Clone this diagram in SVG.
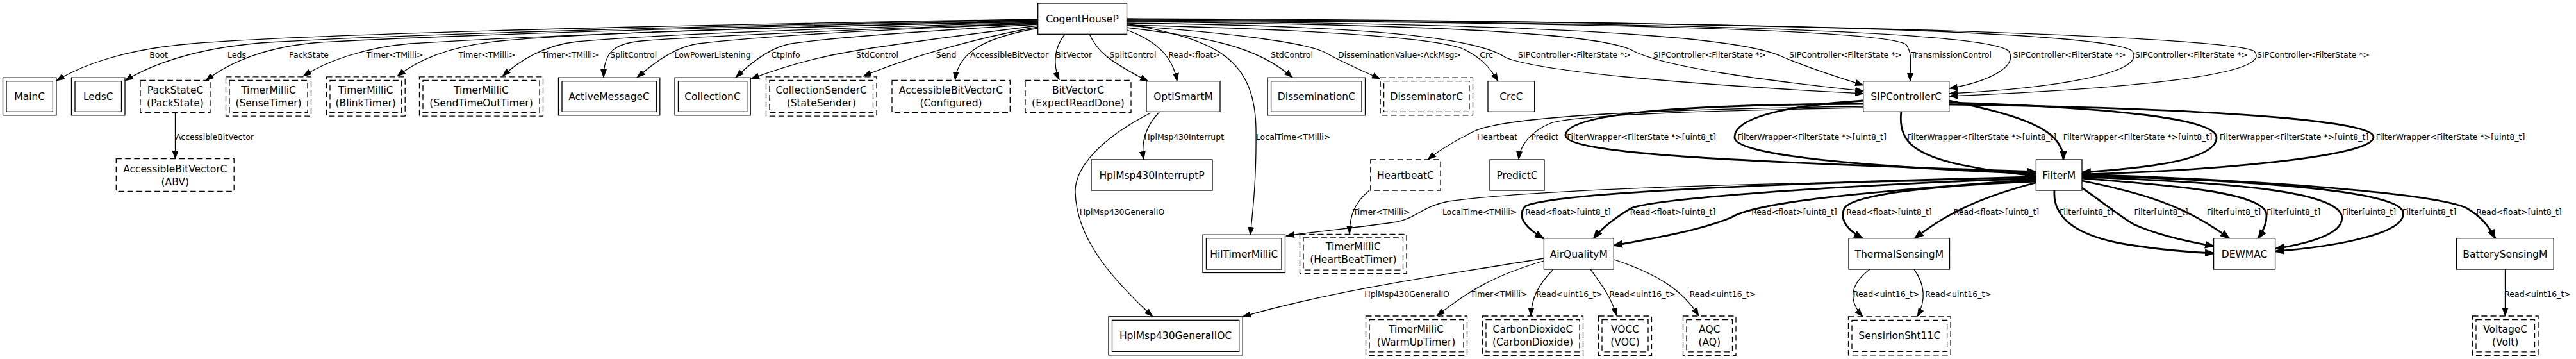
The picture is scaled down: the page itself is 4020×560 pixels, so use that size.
<svg xmlns="http://www.w3.org/2000/svg" width="4020" height="560" viewBox="0 0 4020 560">
<style>
.bg{fill:#fff}
.n rect{fill:#fff;stroke:#000;stroke-width:1.3}
.n.d rect,.n rect.d{stroke-dasharray:9 5}
.n text{font-family:"DejaVu Sans",sans-serif;font-size:15.5px;fill:#000;text-anchor:middle}
.e path{fill:none;stroke:#000;stroke-width:1.3;marker-end:url(#a)}
.e path.b{stroke-width:2.8;marker-end:url(#ab)}
.e path.nm{marker-end:none}
.l text{font-family:"DejaVu Sans",sans-serif;font-size:12.5px;fill:#000;text-anchor:middle}
</style>
<defs>
<marker id="a" markerWidth="14" markerHeight="10" refX="13" refY="5" orient="auto" markerUnits="userSpaceOnUse"><path d="M0,0 L14,5 L0,10 z" fill="#000"/></marker>
<marker id="ab" markerWidth="16" markerHeight="12" refX="14" refY="6" orient="auto" markerUnits="userSpaceOnUse"><path d="M0,0 L16,6 L0,12 z" fill="#000"/></marker>
</defs>
<rect class="bg" x="0" y="0" width="4020" height="560"/>

<g id="connectors" class="e">
<path d="M1620,30 C1100,38 500,52 300,68 C200,76 130,100 88,126"/>
<path d="M1620,31 C1100,40 600,55 420,66 C330,72 250,92 195,126"/>
<path d="M1620,32 C1100,42 700,55 500,66 C420,72 360,95 321,126"/>
<path d="M1620,33 C1100,45 800,58 640,68 C570,74 510,95 473,119"/>
<path d="M1620,34 C1200,42 900,52 780,64 C700,72 650,95 620,119"/>
<path d="M1620,35 C1300,44 1000,55 900,65 C850,70 810,95 784,119"/>
<path d="M1620,36 C1400,44 1100,55 1000,64 C960,68 942,80 942,121"/>
<path d="M1620,37 C1400,45 1200,55 1090,68 C1060,72 1030,90 994,121"/>
<path d="M1620,38 C1450,48 1300,58 1235,68 C1210,72 1180,90 1148,121"/>
<path d="M1620,40 C1500,55 1400,68 1330,80 C1270,90 1220,105 1172,123"/>
<path d="M1620,42 C1530,58 1420,88 1347,119"/>
<path d="M1620,44 C1540,58 1495,80 1490.5,125"/>
<path d="M1662,53 C1645,75 1643,100 1653,125"/>
<path d="M1700,53 C1712,80 1730,95 1792,127"/>
<path d="M1759,47 C1800,62 1830,85 1837,127"/>
<path d="M1758,37 C1880,60 1958,80 1960,200 C1961,280 1955,330 1951,367"/>
<path d="M1758,43 C1880,58 1960,70 2017,121"/>
<path d="M1758,40 C1900,50 2040,65 2070,83 C2095,97 2120,108 2154,123"/>
<path d="M1758,39 C2000,45 2220,55 2280,75 C2310,88 2325,105 2338,127"/>
<path d="M1758,36 C2100,40 2300,55 2350,90 C2400,110 2600,130 2908,146"/>
<path d="M1758,34 C2200,38 2500,50 2550,80 C2600,105 2750,125 2908,142"/>
<path d="M1758,33 C2300,36 2700,50 2780,88 C2820,105 2860,118 2908,133"/>
<path d="M1758,32 C2400,34 2950,45 2975,70 C2985,85 2981,100 2981,127"/>
<path d="M1758,31 C2500,34 3100,45 3135,80 C3150,105 3100,128 3042,138"/>
<path d="M1758,30 C2600,33 3290,45 3328,80 C3350,115 3200,138 3042,146"/>
<path d="M1758,29 C2700,32 3480,55 3518,80 C3545,110 3400,135 3042,150"/>
<path d="M273.5,176 L273.5,248"/>
<path class="b" d="M2908,162 C2700,163 2450,170 2443,210 C2438,240 2700,252 3177,268"/>
<path class="b" d="M2908,157 C2780,165 2705,185 2707,215 C2710,245 2950,262 3177,271"/>
<path class="b" d="M2967,174 C2962,215 2980,240 3060,257 C3110,267 3150,272 3177,274"/>
<path class="b" d="M3042,157 C3150,180 3220,200 3220,249"/>
<path class="b" d="M3042,160 C3300,168 3460,185 3459,215 C3458,250 3350,262 3249,269"/>
<path class="b" d="M3042,163 C3400,168 3700,185 3704,213 C3708,245 3450,266 3249,272"/>
<path d="M2908,166 C2600,170 2350,180 2300,205 C2270,220 2245,235 2228,249"/>
<path d="M2908,168 C2700,172 2460,178 2420,192 C2390,205 2372,225 2370,249"/>
<path d="M3177,282 C2800,282 2400,295 2260,314 C2220,322 2210,340 2180,346 C2120,355 2060,360 2007,368"/>
<path class="b" d="M3177,276 C2800,285 2420,300 2380,322 C2365,340 2385,358 2409,372"/>
<path class="b" d="M3177,278 C2850,290 2580,310 2545,325 C2520,340 2500,355 2487,372"/>
<path class="b" d="M3177,280 C2900,300 2740,315 2700,340 C2650,360 2580,372 2518,383"/>
<path class="b" d="M3177,283 C3000,290 2890,305 2878,325 C2870,345 2885,360 2907,372"/>
<path class="b" d="M3177,285 C3100,305 3040,330 2988,372"/>
<path class="b" d="M3206,297 C3203,340 3240,370 3330,383 C3390,392 3430,394 3455,395"/>
<path class="b" d="M3249,293 C3285,318 3305,335 3330,350 C3370,368 3420,378 3455,384"/>
<path class="b" d="M3249,282 C3340,300 3410,320 3479,372"/>
<path class="b" d="M3249,278 C3400,290 3520,300 3536,330 C3540,345 3532,360 3524,372"/>
<path class="b" d="M3249,276 C3500,285 3640,300 3654,335 C3662,365 3600,380 3551,388"/>
<path class="b" d="M3249,274 C3550,282 3740,300 3750,330 C3758,365 3640,385 3551,392"/>
<path class="b" d="M3249,272 C3500,280 3800,300 3850,325 C3875,340 3885,355 3894,372"/>
<path d="M2137,297 C2115,315 2106,335 2106,365"/>
<path d="M1809,175 C1790,195 1780,220 1785,249"/>
<path d="M1796,176 C1720,215 1677,260 1678,300 C1680,370 1730,430 1799,494"/>
<path d="M2409,403 C2280,425 2100,448 1939,494"/>
<path d="M2409,407 C2330,430 2290,455 2242,493"/>
<path d="M2424,420 C2400,445 2390,465 2389,493"/>
<path d="M2482,420 C2500,445 2515,465 2523,493"/>
<path d="M2519,405 C2580,425 2625,450 2651,493"/>
<path d="M2918,420 C2885,445 2885,470 2907,494"/>
<path d="M2987,420 C3005,445 3005,470 2992,494"/>
<path d="M3909.5,420 L3909.5,493"/>
</g>

<g id="edge-labels" class="l">
<text x="247.6" y="90.2">Boot</text>
<text x="369.5" y="90.2">Leds</text>
<text x="482" y="90.2">PackState</text>
<text x="616" y="90.2">Timer&lt;TMilli&gt;</text>
<text x="760" y="90.2">Timer&lt;TMilli&gt;</text>
<text x="890" y="90.2">Timer&lt;TMilli&gt;</text>
<text x="988.7" y="90.2">SplitControl</text>
<text x="1112" y="90.2">LowPowerListening</text>
<text x="1226" y="90.2">CtpInfo</text>
<text x="1369" y="90.2">StdControl</text>
<text x="1476.6" y="90.2">Send</text>
<text x="1575" y="90.2">AccessibleBitVector</text>
<text x="1675.7" y="90.2">BitVector</text>
<text x="1768" y="90.2">SplitControl</text>
<text x="1863.5" y="90.2">Read&lt;float&gt;</text>
<text x="2016" y="90.2">StdControl</text>
<text x="2184" y="90.2">DisseminationValue&lt;AckMsg&gt;</text>
<text x="2319.6" y="90.2">Crc</text>
<text x="2457" y="90.2">SIPController&lt;FilterState *&gt;</text>
<text x="2668" y="90.2">SIPController&lt;FilterState *&gt;</text>
<text x="2880" y="90.2">SIPController&lt;FilterState *&gt;</text>
<text x="3045" y="90.2">TransmissionControl</text>
<text x="3229.5" y="90.2">SIPController&lt;FilterState *&gt;</text>
<text x="3420" y="90.2">SIPController&lt;FilterState *&gt;</text>
<text x="3610" y="90.2">SIPController&lt;FilterState *&gt;</text>
<text x="335" y="217.8">AccessibleBitVector</text>
<text x="1847.6" y="217.8">HplMsp430Interrupt</text>
<text x="2018" y="217.8">LocalTime&lt;TMilli&gt;</text>
<text x="2336.6" y="217.8">Heartbeat</text>
<text x="2410.7" y="217.8">Predict</text>
<text x="2561.6" y="217.8">FilterWrapper&lt;FilterState *&gt;[uint8_t]</text>
<text x="2827.6" y="217.8">FilterWrapper&lt;FilterState *&gt;[uint8_t]</text>
<text x="3092.5" y="217.8">FilterWrapper&lt;FilterState *&gt;[uint8_t]</text>
<text x="3336" y="217.8">FilterWrapper&lt;FilterState *&gt;[uint8_t]</text>
<text x="3580" y="217.8">FilterWrapper&lt;FilterState *&gt;[uint8_t]</text>
<text x="3824" y="217.8">FilterWrapper&lt;FilterState *&gt;[uint8_t]</text>
<text x="1751" y="335.2">HplMsp430GeneralIO</text>
<text x="2156" y="335.2">Timer&lt;TMilli&gt;</text>
<text x="2309" y="335.2">LocalTime&lt;TMilli&gt;</text>
<text x="2447" y="335.2">Read&lt;float&gt;[uint8_t]</text>
<text x="2610.6" y="335.2">Read&lt;float&gt;[uint8_t]</text>
<text x="2800" y="335.2">Read&lt;float&gt;[uint8_t]</text>
<text x="2948" y="335.2">Read&lt;float&gt;[uint8_t]</text>
<text x="3115.4" y="335.2">Read&lt;float&gt;[uint8_t]</text>
<text x="3256" y="335.2">Filter[uint8_t]</text>
<text x="3372.6" y="335.2">Filter[uint8_t]</text>
<text x="3486" y="335.2">Filter[uint8_t]</text>
<text x="3579" y="335.2">Filter[uint8_t]</text>
<text x="3697" y="335.2">Filter[uint8_t]</text>
<text x="3791" y="335.2">Filter[uint8_t]</text>
<text x="3931" y="335.2">Read&lt;float&gt;[uint8_t]</text>
<text x="2195.6" y="462.8">HplMsp430GeneralIO</text>
<text x="2339" y="462.8">Timer&lt;TMilli&gt;</text>
<text x="2449" y="462.8">Read&lt;uint16_t&gt;</text>
<text x="2563" y="462.8">Read&lt;uint16_t&gt;</text>
<text x="2688.5" y="462.8">Read&lt;uint16_t&gt;</text>
<text x="2943.6" y="462.8">Read&lt;uint16_t&gt;</text>
<text x="3056" y="462.8">Read&lt;uint16_t&gt;</text>
<text x="3960" y="462.8">Read&lt;uint16_t&gt;</text>
</g>

<g id="CogentHouseP" class="n"><rect x="1619.7" y="5" width="138.8" height="48.3"/><text x="1689" y="34.5">CogentHouseP</text></g>

<g id="MainC" class="n"><rect x="4.5" y="121.2" width="83.4" height="58.6"/><rect x="10" y="126.7" width="72.4" height="47.6"/><text x="46.2" y="156">MainC</text></g>
<g id="LedsC" class="n"><rect x="111.5" y="121.2" width="83.5" height="58.6"/><rect x="117" y="126.7" width="72.5" height="47.6"/><text x="153.3" y="156">LedsC</text></g>
<g id="PackStateC" class="n d"><rect x="219" y="125.3" width="109" height="50.4"/><text x="273.5" y="145.5">PackStateC</text><text x="273.5" y="165.5">(PackState)</text></g>
<g id="SenseTimer" class="n d"><rect x="352.5" y="119.8" width="133" height="61.4"/><rect x="358" y="125.3" width="122" height="50.4"/><text x="419" y="145.5">TimerMilliC</text><text x="419" y="165.5">(SenseTimer)</text></g>
<g id="BlinkTimer" class="n d"><rect x="509.5" y="119.8" width="122.7" height="61.4"/><rect x="515" y="125.3" width="111.7" height="50.4"/><text x="570.7" y="145.5">TimerMilliC</text><text x="570.7" y="165.5">(BlinkTimer)</text></g>
<g id="SendTimeOutTimer" class="n d"><rect x="654.5" y="119.8" width="193" height="61.4"/><rect x="660" y="125.3" width="182" height="50.4"/><text x="751" y="145.5">TimerMilliC</text><text x="751" y="165.5">(SendTimeOutTimer)</text></g>
<g id="ActiveMessageC" class="n"><rect x="871.5" y="121.2" width="158.3" height="58.6"/><rect x="877" y="126.7" width="147.3" height="47.6"/><text x="950.6" y="156">ActiveMessageC</text></g>
<g id="CollectionC" class="n"><rect x="1053" y="121.2" width="118.2" height="58.6"/><rect x="1058.5" y="126.7" width="107.2" height="47.6"/><text x="1112" y="156">CollectionC</text></g>
<g id="StateSender" class="n d"><rect x="1195.5" y="119.8" width="172.5" height="61.4"/><rect x="1201" y="125.3" width="161.5" height="50.4"/><text x="1281.7" y="145.5">CollectionSenderC</text><text x="1281.7" y="165.5">(StateSender)</text></g>
<g id="Configured" class="n d"><rect x="1392" y="125.3" width="184.3" height="50.4"/><text x="1484" y="145.5">AccessibleBitVectorC</text><text x="1484" y="165.5">(Configured)</text></g>
<g id="ExpectReadDone" class="n d"><rect x="1600" y="125.3" width="165" height="50.4"/><text x="1682.5" y="145.5">BitVectorC</text><text x="1682.5" y="165.5">(ExpectReadDone)</text></g>
<g id="OptiSmartM" class="n"><rect x="1789" y="126.7" width="115" height="47.6"/><text x="1846.5" y="156">OptiSmartM</text></g>
<g id="DisseminationC" class="n"><rect x="1978.1" y="121.2" width="152.4" height="58.6"/><rect x="1983.6" y="126.7" width="141.4" height="47.6"/><text x="2054.3" y="156">DisseminationC</text></g>
<g id="DisseminatorC" class="n d"><rect x="2154.1" y="121.2" width="144.4" height="58.6"/><rect x="2159.6" y="126.7" width="133.4" height="47.6"/><text x="2226.3" y="156">DisseminatorC</text></g>
<g id="CrcC" class="n"><rect x="2322" y="126.7" width="72.7" height="47.6"/><text x="2358.4" y="156">CrcC</text></g>
<g id="SIPControllerC" class="n"><rect x="2907.7" y="126.7" width="134" height="47.6"/><text x="2974.7" y="156">SIPControllerC</text></g>

<g id="ABV" class="n d"><rect x="181.3" y="247.7" width="183.9" height="50.6"/><text x="273.3" y="268.8">AccessibleBitVectorC</text><text x="273.3" y="288.8">(ABV)</text></g>
<g id="HplMsp430InterruptP" class="n"><rect x="1703" y="249" width="189" height="48"/><text x="1797.5" y="278.5">HplMsp430InterruptP</text></g>
<g id="HeartbeatC" class="n d"><rect x="2138.8" y="249" width="109.2" height="48"/><text x="2193.4" y="278.5">HeartbeatC</text></g>
<g id="PredictC" class="n"><rect x="2325" y="249" width="85" height="48"/><text x="2367.5" y="278.5">PredictC</text></g>
<g id="FilterM" class="n"><rect x="3177.4" y="249" width="71.6" height="48"/><text x="3213.2" y="278.5">FilterM</text></g>

<g id="HilTimerMilliC" class="n"><rect x="1877" y="366.2" width="128.5" height="59.3"/><rect x="1882.5" y="371.7" width="117.5" height="48.3"/><text x="1941.3" y="401.5">HilTimerMilliC</text></g>
<g id="HeartBeatTimer" class="n d"><rect x="2028.5" y="365.3" width="166.5" height="61.4"/><rect x="2034" y="370.8" width="155.5" height="50.4"/><text x="2111.8" y="390">TimerMilliC</text><text x="2111.8" y="410">(HeartBeatTimer)</text></g>
<g id="AirQualityM" class="n"><rect x="2409.4" y="371.7" width="108.9" height="48.3"/><text x="2463.8" y="401.5">AirQualityM</text></g>
<g id="ThermalSensingM" class="n"><rect x="2885" y="371.7" width="157.5" height="48.3"/><text x="2963.8" y="401.5">ThermalSensingM</text></g>
<g id="DEWMAC" class="n"><rect x="3454.6" y="371.7" width="96" height="48.3"/><text x="3502.6" y="401.5">DEWMAC</text></g>
<g id="BatterySensingM" class="n"><rect x="3833.4" y="371.7" width="151.8" height="48.3"/><text x="3909.3" y="401.5">BatterySensingM</text></g>

<g id="HplMsp430GeneralIOC" class="n"><rect x="1730" y="493.8" width="209.2" height="60"/><rect x="1735.5" y="499.3" width="198.2" height="49"/><text x="1834.6" y="529">HplMsp430GeneralIOC</text></g>
<g id="WarmUpTimer" class="n d"><rect x="2131.5" y="493" width="158" height="61.4"/><rect x="2137" y="498.5" width="147" height="50.4"/><text x="2210" y="519">TimerMilliC</text><text x="2210" y="539">(WarmUpTimer)</text></g>
<g id="CarbonDioxide" class="n d"><rect x="2313.5" y="493" width="157" height="61.4"/><rect x="2319" y="498.5" width="146" height="50.4"/><text x="2392" y="519">CarbonDioxideC</text><text x="2392" y="539">(CarbonDioxide)</text></g>
<g id="VOC" class="n d"><rect x="2494.5" y="493" width="83" height="61.4"/><rect x="2500" y="498.5" width="72" height="50.4"/><text x="2536" y="519">VOCC</text><text x="2536" y="539">(VOC)</text></g>
<g id="AQ" class="n d"><rect x="2626.5" y="493" width="82.5" height="61.4"/><rect x="2632" y="498.5" width="71.5" height="50.4"/><text x="2667.8" y="519">AQC</text><text x="2667.8" y="539">(AQ)</text></g>
<g id="SensirionSht11C" class="n d"><rect x="2884.5" y="493.8" width="159.6" height="60"/><rect x="2890" y="499.3" width="148.6" height="49"/><text x="2964.3" y="529">SensirionSht11C</text></g>
<g id="Volt" class="n d"><rect x="3858.5" y="493" width="102.5" height="61.4"/><rect x="3864" y="498.5" width="91.5" height="50.4"/><text x="3909.7" y="519">VoltageC</text><text x="3909.7" y="539">(Volt)</text></g>
</svg>
